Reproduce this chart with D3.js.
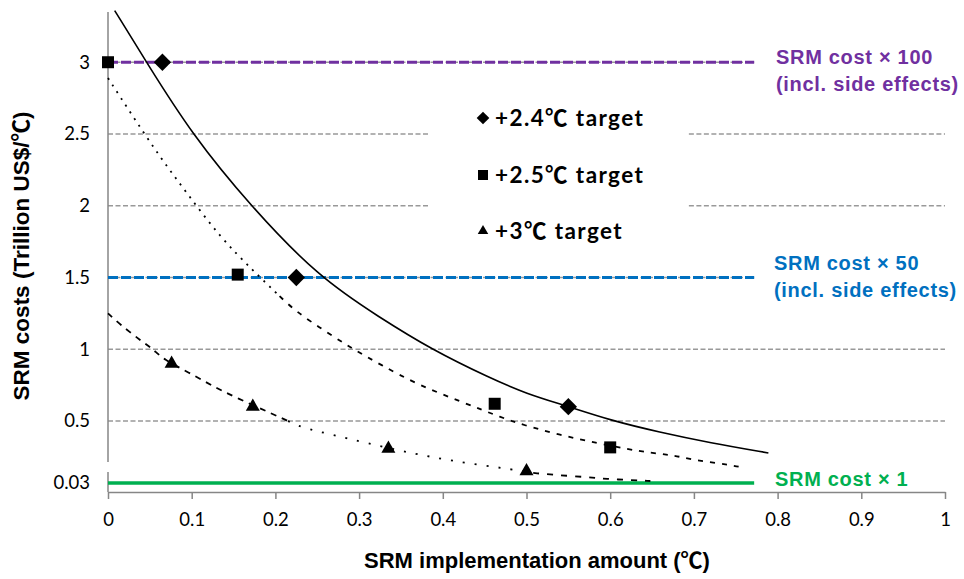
<!DOCTYPE html>
<html>
<head>
<meta charset="utf-8">
<script src="https://cdn.jsdelivr.net/npm/d3@7"></script>
<style>
  body { margin: 0; background: #fff; }
</style>
</head>
<body>
<svg id="chart" width="964" height="579"></svg>
<script>
// ---- values ----
const xTicks = [0, 0.1, 0.2, 0.3, 0.4, 0.5, 0.6, 0.7, 0.8, 0.9, 1];
const yTicks = [0.03, 0.5, 1, 1.5, 2, 2.5, 3];
const gridValues = [0.5, 1, 1.5, 2, 2.5, 3];

// target points
const t24X = [0.065, 0.225, 0.55];
const t24Y = [3.0, 1.5, 0.6];
const t25X = [0, 0.155, 0.462, 0.6];
const t25Y = [3.0, 1.52, 0.62, 0.3];
const t30X = [0.076, 0.173, 0.335, 0.5];
const t30Y = [0.9, 0.6, 0.29, 0.12];

// fitted curves
const fit24X = [0.008, 0.046, 0.1, 0.17, 0.252, 0.325, 0.386, 0.456, 0.5, 0.548, 0.6, 0.659, 0.719, 0.789];
const fit24Y = [3.36, 3.0, 2.5, 2.0, 1.5, 1.22, 1.0, 0.8, 0.69, 0.605, 0.505, 0.415, 0.335, 0.258];
const fit25X = [0, 0.03, 0.062, 0.094, 0.134, 0.173, 0.205, 0.225, 0.261, 0.293, 0.325, 0.369, 0.424, 0.472, 0.496, 0.54, 0.584, 0.62, 0.648, 0.675, 0.699, 0.729, 0.755];
const fit25Y = [2.89, 2.62, 2.34, 2.09, 1.78, 1.55, 1.37, 1.26, 1.12, 1.0, 0.895, 0.755, 0.63, 0.52, 0.47, 0.394, 0.333, 0.288, 0.258, 0.242, 0.205, 0.18, 0.152];
const fit30X = [0, 0.014, 0.04, 0.054, 0.066, 0.096, 0.126, 0.154, 0.194, 0.215, 0.229, 0.269, 0.309, 0.361, 0.393, 0.429, 0.472, 0.508, 0.536, 0.572, 0.596, 0.624, 0.648];
const fit30Y = [1.25, 1.175, 1.056, 1.0, 0.93, 0.84, 0.74, 0.66, 0.556, 0.5, 0.455, 0.394, 0.333, 0.258, 0.22, 0.18, 0.144, 0.106, 0.09, 0.075, 0.06, 0.053, 0.045];

// SRM cost reference lines
const costLevels = [3, 1.5, 0.03];
const costEnd = 0.772;
const costLabels = [
  ["SRM cost \u00d7 100", "(incl. side effects)"],
  ["SRM cost \u00d7 50", "(incl. side effects)"],
  ["SRM cost \u00d7 1"]
];
const legendLabels = ["+2.4\u2103 target", "+2.5\u2103 target", "+3\u2103 target"];

// ---- layout / style ----
const costColors = ["#7030A0", "#0070C0", "#00B050"];
const costLabelPos = [[776, 64], [774, 270], [775, 486]];
const legendGap = [0.385, 0.694];

const svg = d3.select("#chart");

const x = d3.scaleLinear().domain([0, 1]).range([108, 945]);
// broken axis: the 0.03 line sits just above the bottom
const y = d3.scaleLinear().domain([0, 0.03, 0.5, 3.35]).range([492, 483, 421, 12]);

const numFont = "Lato, 'Noto Sans', sans-serif";
const boldFont = "'Liberation Sans', Arial, 'Noto Sans CJK JP', sans-serif";

// gridlines
gridValues.forEach(v => {
  let spans = [[0, 1]];
  if (v === 2 || v === 2.5) spans = [[0, legendGap[0]], [legendGap[1], 1]];
  else if (costLevels.includes(v)) spans = [[0, costEnd]];
  spans.forEach(s => {
    svg.append("line")
      .attr("x1", x(s[0])).attr("x2", x(s[1]))
      .attr("y1", y(v)).attr("y2", y(v))
      .attr("stroke", "#999")
      .attr("stroke-width", 1.5)
      .attr("stroke-dasharray", "5,2.5");
  });
});

// x axis
const xAxis = svg.append("g")
  .attr("transform", `translate(0,${y(0)})`)
  .call(d3.axisBottom(x).tickValues(xTicks).tickSize(7).tickSizeOuter(0).tickPadding(14).tickFormat(d3.format("")));
xAxis.select(".domain").attr("stroke", "#868686").attr("stroke-width", 1.5);
xAxis.selectAll(".tick line").attr("stroke", "#868686").attr("stroke-width", 1.5);
xAxis.selectAll("text").attr("font-family", numFont).attr("font-size", 18.5).attr("fill", "#000");

// y axis (labels only, line drawn with a break)
const yAxis = svg.append("g")
  .attr("transform", `translate(${x(0)},0)`)
  .call(d3.axisLeft(y).tickValues(yTicks).tickSize(0).tickPadding(18).tickFormat(d3.format("")));
yAxis.select(".domain").remove();
yAxis.selectAll("text").attr("font-family", numFont).attr("font-size", 18.5).attr("fill", "#000");

[[y(3.35), 462], [472, y(0)]].forEach(s => {
  svg.append("line")
    .attr("x1", x(0)).attr("x2", x(0))
    .attr("y1", s[0]).attr("y2", s[1])
    .attr("stroke", "#868686").attr("stroke-width", 1.5);
});

// SRM cost lines
costLevels.forEach((v, i) => {
  svg.append("line")
    .attr("x1", x(0)).attr("x2", x(costEnd))
    .attr("y1", y(v)).attr("y2", y(v))
    .attr("stroke", costColors[i])
    .attr("stroke-width", i === 2 ? 3.5 : 3)
    .attr("stroke-dasharray", i === 2 ? null : "10,3");
  const t = svg.append("text")
    .attr("x", costLabelPos[i][0]).attr("y", costLabelPos[i][1])
    .attr("font-family", boldFont).attr("font-weight", "bold")
    .attr("font-size", 20).attr("letter-spacing", "0.7px")
    .attr("fill", costColors[i]);
  costLabels[i].forEach((s, j) => {
    t.append("tspan").attr("x", costLabelPos[i][0]).attr("dy", j === 0 ? 0 : 26.5).text(s);
  });
});

// fitted curves, dash style changes along each curve
const line = d3.line().x(d => x(d[0])).y(d => y(d[1])).curve(d3.curveBasis);
const curves = [
  { xs: fit24X, ys: fit24Y, parts: [[0, 1, null]], width: 1.6 },
  { xs: fit25X, ys: fit25Y, parts: [[0, 0.205, "2,6"], [0.205, 1, "5,7"]], width: 1.8 },
  { xs: fit30X, ys: fit30Y, parts: [[0, 0.215, "6,6"], [0.215, 0.508, "2,10"], [0.508, 1, "6,8"]], width: 1.8 }
];
curves.forEach(c => {
  const pts = c.xs.map((v, i) => [v, c.ys[i]]);
  c.parts.forEach(p => {
    svg.append("path")
      .attr("d", line(pts.filter(d => d[0] >= p[0] && d[0] <= p[1])))
      .attr("fill", "none")
      .attr("stroke", "#000")
      .attr("stroke-width", c.width)
      .attr("stroke-dasharray", p[2]);
  });
});

// markers
const diamond = d3.symbol().type(d3.symbolSquare);
const square = d3.symbol().type(d3.symbolSquare);
const triangle = d3.symbol().type(d3.symbolTriangle);

t24X.forEach((v, i) => {
  svg.append("path").attr("d", diamond.size(150)())
    .attr("transform", `translate(${x(v)},${y(t24Y[i])}) rotate(45)`).attr("fill", "#000");
});
t25X.forEach((v, i) => {
  svg.append("path").attr("d", square.size(144)())
    .attr("transform", `translate(${x(v)},${y(t25Y[i])})`).attr("fill", "#000");
});
t30X.forEach((v, i) => {
  svg.append("path").attr("d", triangle.size(85)())
    .attr("transform", `translate(${x(v)},${y(t30Y[i])})`).attr("fill", "#000");
});

// legend
const legendY = [118, 175, 231];
const legendSymbols = [
  { gen: d3.symbol().type(d3.symbolSquare).size(80), rot: 45 },
  { gen: d3.symbol().type(d3.symbolSquare).size(100), rot: 0 },
  { gen: d3.symbol().type(d3.symbolTriangle).size(48), rot: 0 }
];
legendLabels.forEach((s, i) => {
  svg.append("path").attr("d", legendSymbols[i].gen())
    .attr("transform", `translate(483,${legendY[i]}) rotate(${legendSymbols[i].rot})`)
    .attr("fill", "#000");
  svg.append("text")
    .attr("x", 495).attr("y", legendY[i] + 8)
    .attr("font-family", "Lato, 'Noto Sans CJK JP', sans-serif")
    .attr("font-weight", "bold").attr("font-size", 22.5)
    .attr("letter-spacing", "1.4px")
    .attr("fill", "#000")
    .text(s);
});

// axis titles
svg.append("text")
  .attr("x", 537).attr("y", 568)
  .attr("text-anchor", "middle")
  .attr("font-family", boldFont).attr("font-weight", "bold").attr("font-size", 22)
  .text("SRM implementation amount (\u2103)");

svg.append("text")
  .attr("transform", "translate(29,256) rotate(-90)")
  .attr("text-anchor", "middle")
  .attr("font-family", boldFont).attr("font-weight", "bold").attr("font-size", 22.5)
  .text("SRM costs (Trillion US$/\u2103)");
</script>
</body>
</html>
